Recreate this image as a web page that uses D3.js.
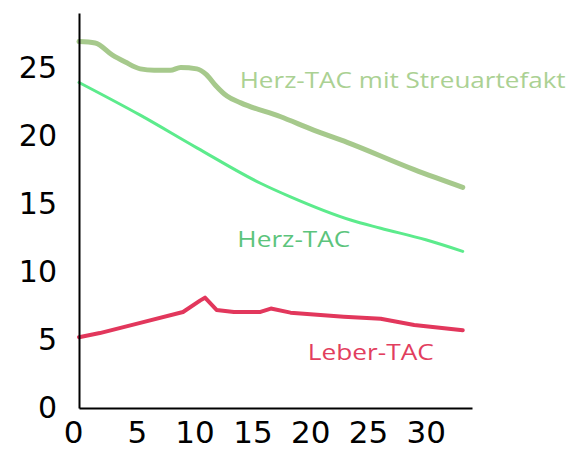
<!DOCTYPE html>
<html>
<head>
<meta charset="utf-8">
<script src="https://cdn.jsdelivr.net/npm/d3@7"></script>
<style>
  body { margin: 0; background: #fff; }
</style>
</head>
<body>
<div id="chart"></div>
<script>
// time (min) and activity, one array pair per curve
const streuTime = [0, 1.4, 2.9, 4.0, 5.3, 6.5, 7.9, 8.8, 10.2, 11.0, 11.8, 12.8, 14.0, 17.4, 20.3, 23.2, 29.0, 33.2];
const streuVals = [26.9, 26.8, 25.9, 25.4, 24.9, 24.8, 24.8, 25.0, 24.9, 24.5, 23.7, 22.9, 22.4, 21.4, 20.4, 19.5, 17.5, 16.2];

const herzTime = [0, 5.3, 10.2, 15.7, 18.3, 23.5, 26.1, 30.0, 33.2];
const herzVals = [23.9, 21.5, 19.1, 16.5, 15.5, 13.8, 13.2, 12.35, 11.5];

const leberTime = [0, 1.8, 5.3, 9.0, 10.5, 10.9, 11.9, 13.4, 15.7, 16.6, 18.3, 22.9, 26.1, 29.0, 33.2];
const leberVals = [5.2, 5.5, 6.25, 7.05, 7.9, 8.1, 7.2, 7.05, 7.05, 7.3, 7.0, 6.7, 6.55, 6.1, 5.7];

const xTicks = [0, 5, 10, 15, 20, 25, 30];
const yTicks = [0, 5, 10, 15, 20, 25];

const seriesNames = ["Herz-TAC mit Streuartefakt", "Herz-TAC", "Leber-TAC"];

const width = 574;
const height = 453;

const x = d3.scaleLinear().domain([0, 34]).range([79, 472]);
const y = d3.scaleLinear().domain([0, 29]).range([408, 13]);

const svg = d3.select("#chart")
  .append("svg")
  .attr("width", width)
  .attr("height", height);

const series = [
  { name: seriesNames[0], t: streuTime, v: streuVals, color: "#a6c98c", w: 5, curve: d3.curveMonotoneX,
    text: "#abd193", lx: 13.9, ly: 23.5, len: 326 },
  { name: seriesNames[1], t: herzTime, v: herzVals, color: "#5ceb8c", w: 3, curve: d3.curveMonotoneX,
    text: "#5cc47c", lx: 13.7, ly: 11.8, len: 113 },
  { name: seriesNames[2], t: leberTime, v: leberVals, color: "#e2375c", w: 4, curve: d3.curveLinear,
    text: "#e23e5e", lx: 19.8, ly: 3.55, len: 126 }
];

const line = d3.line();

series.forEach(s => {
  const pts = s.t.map((t, i) => [t, s.v[i]]);
  svg.append("path")
    .datum(pts)
    .attr("fill", "none")
    .attr("stroke", s.color)
    .attr("stroke-width", s.w)
    .attr("stroke-linejoin", "round")
    .attr("stroke-linecap", "round")
    .attr("d", line.x(d => x(d[0])).y(d => y(d[1])).curve(s.curve));

  svg.append("text")
    .attr("x", x(s.lx))
    .attr("y", y(s.ly))
    .attr("fill", s.text)
    .attr("textLength", s.len)
    .attr("lengthAdjust", "spacingAndGlyphs")
    .style("font-family", "'Open Sans', sans-serif")
    .style("font-size", "22px")
    .text(s.name);
});

// axes
const xAxis = svg.append("g")
  .attr("transform", `translate(0,${y(0)})`)
  .call(d3.axisBottom(x).tickValues(xTicks).tickSize(0).tickPadding(13).tickFormat(d3.format("d")));

xAxis.select(".domain").attr("stroke", "#000").attr("stroke-width", 2);
xAxis.selectAll("text")
  .style("font-family", "'DejaVu Sans', sans-serif")
  .style("font-size", "31px")
  .attr("fill", "#000")
  .attr("dx", d => d === 0 ? -6 : 0);

const yAxis = svg.append("g")
  .attr("transform", `translate(${x(0)},0)`)
  .call(d3.axisLeft(y).tickValues(yTicks).tickSize(0).tickPadding(22).tickFormat(d3.format("d")));

yAxis.select(".domain").attr("stroke", "#000").attr("stroke-width", 2);
yAxis.selectAll("text")
  .style("font-family", "'DejaVu Sans', sans-serif")
  .style("font-size", "30px")
  .attr("fill", "#000");
</script>
</body>
</html>
